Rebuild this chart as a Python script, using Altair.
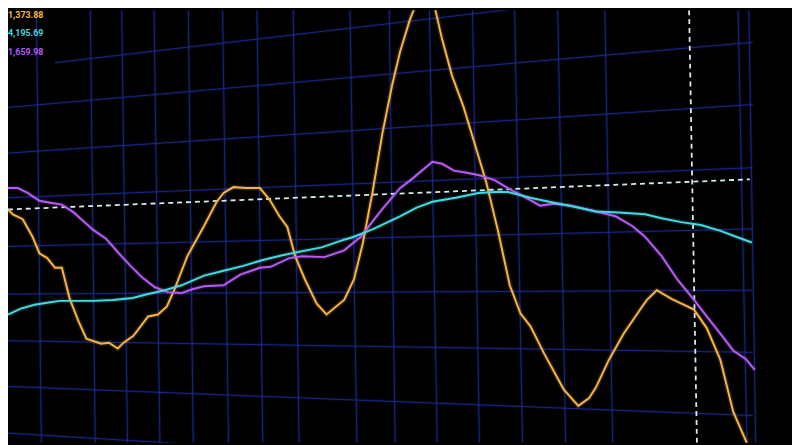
import altair as alt
import pandas as pd

# ---- data (x = time position, y = screen level, 0 at top) ----
orange_x = [0, 5, 15, 25, 32, 40, 48, 55, 63, 72, 80, 95, 103, 112, 118, 128, 143, 153, 162, 170,
            183, 200, 213, 220, 230, 243, 257, 267, 277, 285, 293, 303, 315, 325, 343, 353, 362, 372,
            382, 392, 400, 410, 417, 426, 435, 443, 453, 465, 477, 488, 500, 512, 523, 533, 547, 567,
            582, 593, 600, 613, 628, 647, 652, 662, 677, 700, 713, 727, 740, 753, 760]
orange_y = [205, 210, 215, 233, 250, 255, 265, 265, 297, 320, 338, 343, 342, 348, 342, 335, 315, 313, 305, 287,
            253, 222, 197, 188, 182, 183, 183, 195, 212, 223, 253, 277, 302, 313, 298, 277, 240, 187,
            127, 77, 43, 10, -8, -15, -5, 30, 67, 100, 140, 177, 227, 283, 312, 325, 353, 390,
            407, 399, 388, 360, 333, 305, 298, 288, 297, 308, 327, 360, 413, 443, 460]

purple_x = [0, 10, 20, 32, 43, 55, 67, 77, 87, 100, 113, 125, 137, 150, 163, 177, 188, 200, 220, 237,
            257, 268, 287, 300, 323, 343, 360, 380, 400, 413, 433, 443, 455, 467, 482, 497, 510, 527,
            543, 557, 573, 600, 620, 637, 650, 667, 683, 700, 713, 727, 740, 753, 762]
purple_y = [183, 183, 188, 196, 198, 200, 208, 217, 226, 235, 250, 263, 275, 285, 290, 291, 287, 284, 283, 272,
            265, 264, 255, 253, 254, 247, 233, 207, 183, 173, 156, 158, 165, 167, 170, 175, 183, 192,
            201, 199, 201, 207, 212, 222, 233, 253, 277, 298, 315, 333, 350, 359, 370]

cyan_x = [0, 13, 27, 40, 53, 67, 87, 107, 127, 143, 160, 177, 200, 220, 240, 260, 280, 300, 320, 337,
          353, 373, 400, 417, 433, 457, 480, 497, 510, 533, 557, 577, 600, 623, 650, 667, 687, 707,
          727, 743, 759]
cyan_y = [313, 307, 303, 301, 299, 299, 299, 298, 296, 292, 288, 283, 273, 268, 263, 257, 252, 248, 244, 238,
          233, 225, 212, 203, 197, 193, 188, 187, 187, 193, 198, 202, 207, 208, 210, 214, 218, 221,
          227, 233, 239]

series_names = ["orange", "cyan", "purple"]
series_colors = ["#f5b443", "#45d9e0", "#b55cf3"]

label_texts = ["1,373.88", "4,195.69", "1,659.98"]
label_y = [5, 23, 43]
label_x = [0, 0, 0]

# perspective grid (screen photo): vertical lines top/bottom positions
vgrid_top = [29, 84, 116, 149, 184, 219, 254, 291, 349, 389, 430, 474, 517, 561, 609, 745, 756]
vgrid_bottom = [34, 89, 122, 155, 189, 225, 260, 297, 356, 395, 438, 481, 525, 569, 617, 754, 763]
# horizontal lines left/right levels
hgrid_left = [54, 100, 147, 193, 243, 292, 340, 387, 435]
hgrid_right = [-30, 33, 97, 162, 225, 288, 352, 417, 482]
hgrid_start = [48, 0, 0, 0, 0, 0, 0, 0, 0]
hgrid_end = 760

# dashed crosshair
cross_h = (0, 205, 757, 174)
cross_v = (695, 0, 703, 445)

X_DOMAIN = [0, 800]
Y_DOMAIN = [0, 445]

xs = alt.Scale(domain=X_DOMAIN, nice=False, zero=False)
ys = alt.Scale(domain=Y_DOMAIN, nice=False, zero=False, reverse=True)

rows = []
for name, xv, yv in [("orange", orange_x, orange_y), ("purple", purple_x, purple_y), ("cyan", cyan_x, cyan_y)]:
    for i, (a, b) in enumerate(zip(xv, yv)):
        rows.append({"t": a, "v": b, "series": name, "order": i})
lines_df = pd.DataFrame(rows)

vg = pd.DataFrame({"x": vgrid_top, "x2": vgrid_bottom, "y": Y_DOMAIN[0], "y2": Y_DOMAIN[1]})
hg = pd.DataFrame({"x": hgrid_start, "x2": hgrid_end, "y": hgrid_left, "y2": hgrid_right})
cross = pd.DataFrame({"x": [cross_h[0], cross_v[0]], "y": [cross_h[1], cross_v[1]],
                      "x2": [cross_h[2], cross_v[2]], "y2": [cross_h[3], cross_v[3]]})
labels = pd.DataFrame({"x": label_x, "y": label_y, "text": label_texts, "series": series_names})

color = alt.Color("series:N", scale=alt.Scale(domain=series_names, range=series_colors), legend=None)


def seg(df, **mk):
    return alt.Chart(df).mark_rule(clip=True, **mk).encode(
        x=alt.X("x:Q", scale=xs, axis=None),
        y=alt.Y("y:Q", scale=ys, axis=None),
        x2="x2:Q",
        y2="y2:Q",
    )


GRID = "#1c2c96"
grid_glow = seg(vg, color=GRID, strokeWidth=3, opacity=0.2) + seg(hg, color=GRID, strokeWidth=3, opacity=0.2)
grid = seg(vg, color=GRID, strokeWidth=1, opacity=0.85) + seg(hg, color=GRID, strokeWidth=1, opacity=0.85)
crosshair = seg(cross, color="#d6ecf2", strokeWidth=1.8, strokeDash=[5, 4])

base = alt.Chart(lines_df).encode(
    x=alt.X("t:Q", scale=xs, axis=None),
    y=alt.Y("v:Q", scale=ys, axis=None),
    color=color,
    detail="series:N",
    order="order:Q",
)
glow = base.mark_line(clip=True, strokeWidth=5, opacity=0.15)
lines = base.mark_line(clip=True, strokeWidth=2)

text = alt.Chart(labels).mark_text(
    align="left", baseline="middle", font="Roboto", fontSize=9, fontWeight="bold"
).encode(
    x=alt.X("x:Q", scale=xs, axis=None),
    y=alt.Y("y:Q", scale=ys, axis=None),
    text="text:N",
    color=color,
)

chart = alt.layer(grid_glow, grid, crosshair, glow, lines, text).properties(
    width=792, height=437, padding=0, autosize=alt.AutoSizeParams(type="none"), background="#000000"
).configure_view(stroke=None, fill="#000000")

chart.save("out.html", embed_options={"renderer": "svg", "actions": False})
